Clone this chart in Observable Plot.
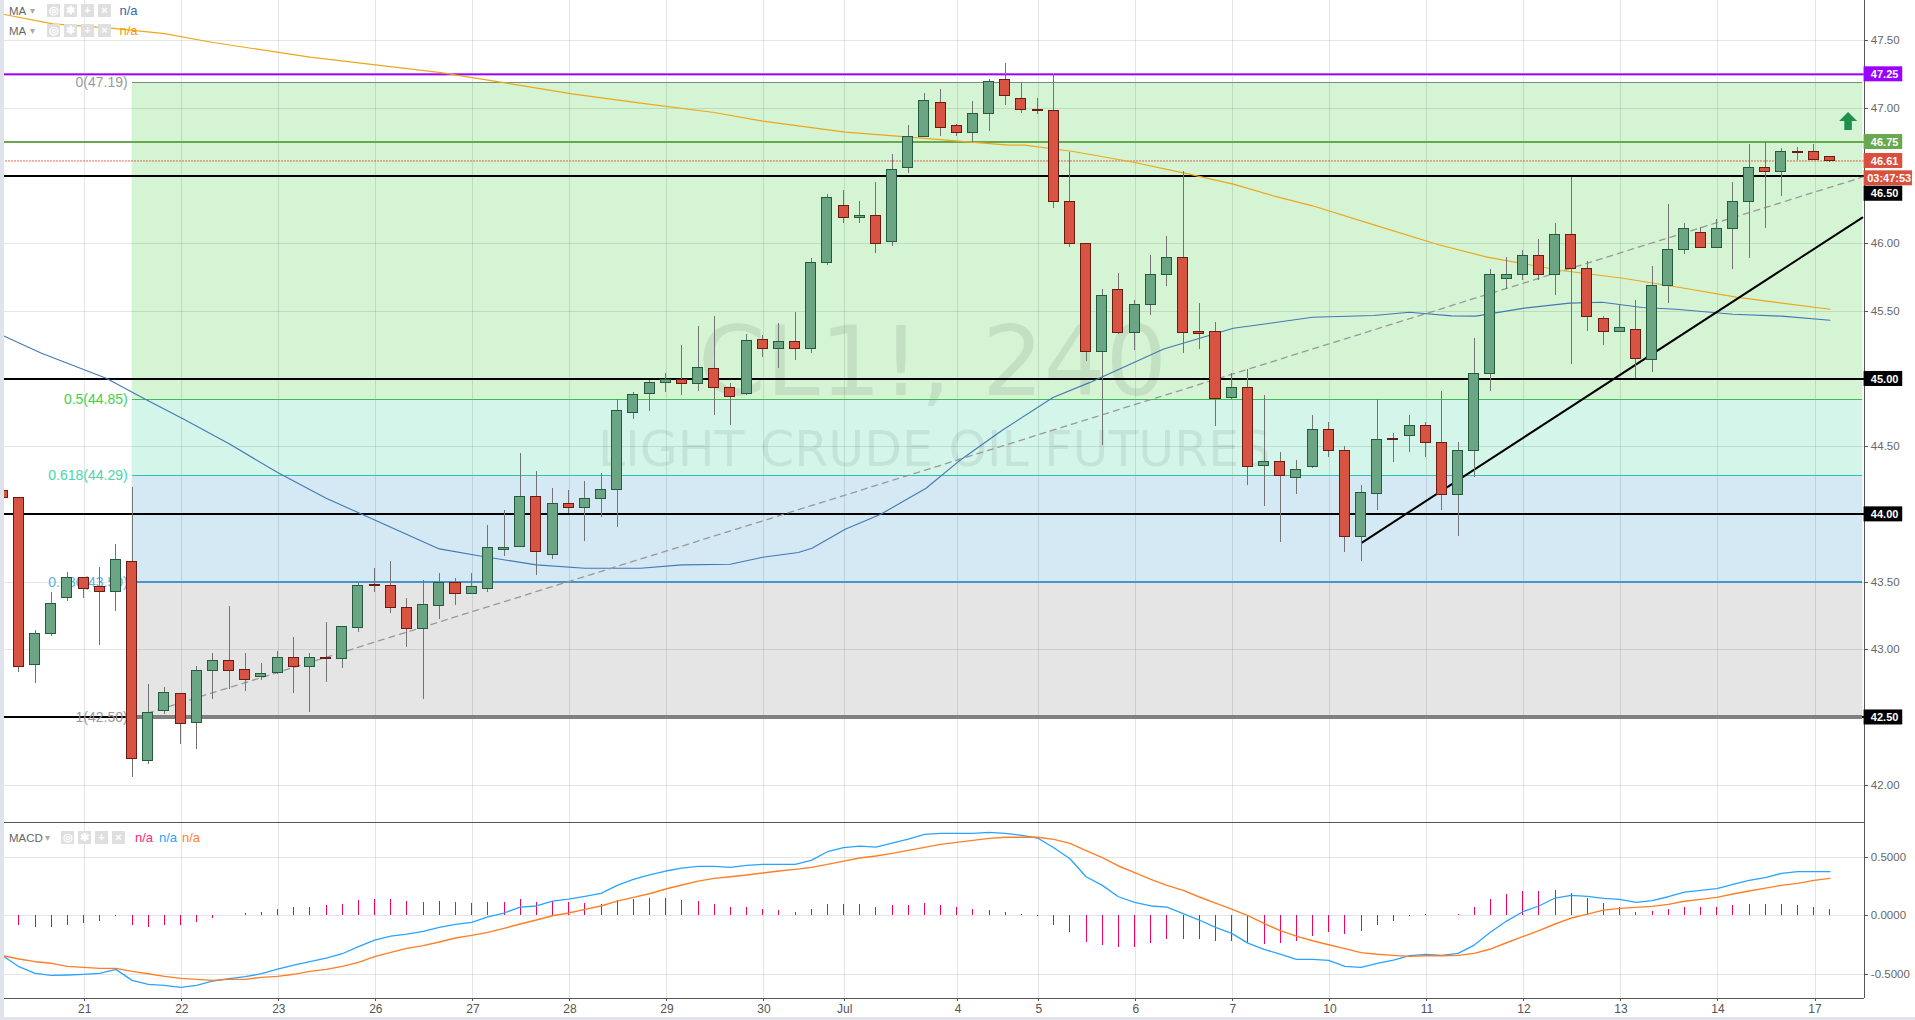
<!DOCTYPE html>
<html>
<head>
<meta charset="utf-8">
<script src="https://cdn.jsdelivr.net/npm/d3@7"></script>
<script src="https://cdn.jsdelivr.net/npm/@observablehq/plot@0.6"></script>
<style>
html,body{margin:0;padding:0;background:#fff;overflow:hidden}
#page{position:relative;width:1915px;height:1020px;overflow:hidden;font-family:"Liberation Sans",Arial,sans-serif}
#page svg{position:absolute;left:0;display:block}
.strip{position:absolute;background:#e0e3eb}
.legend{position:absolute;left:9px;height:14px;line-height:14px;font-size:13px;color:#666;white-space:nowrap}
.legend span{position:absolute;top:0}
.legend .name{font-size:11.5px}
.btn{width:13px;height:13px;background:#dfdfdf;color:#fff;font-size:11px;line-height:13px;text-align:center;font-weight:bold}
.caret{color:#aaa;font-size:10px}
</style>
</head>
<body>
<div id="page"></div>
<script>
// 4-hour bars of CL1!
const open = [44.17,44.12,42.89,43.12,43.38,43.53,43.46,43.43,43.65,42.18,
42.55,42.67,42.46,42.84,42.92,42.85,42.80,42.83,42.94,42.87,
42.94,42.93,43.16,43.48,43.47,43.31,43.15,43.32,43.49,43.41,
43.45,43.74,43.76,44.13,43.70,44.08,44.05,44.11,44.18,44.75,
44.89,44.97,44.99,44.96,45.07,44.93,44.89,45.29,45.22,45.27,
45.22,45.86,46.28,46.19,46.20,46.01,46.56,46.79,47.04,46.87,
46.82,46.96,47.21,47.07,46.99,46.98,46.31,46.00,45.20,45.66,
45.34,45.55,45.77,45.89,45.35,45.35,44.86,44.93,44.36,44.39,
44.27,44.35,44.62,44.47,43.83,44.15,44.56,44.58,44.65,44.53,
44.14,44.47,45.04,45.74,45.77,45.91,45.77,46.06,45.81,45.44,
45.35,45.36,45.14,45.69,45.95,46.08,45.97,46.11,46.31,46.56,
46.53,46.68,46.68,46.64];
const close = [44.12,42.87,43.12,43.34,43.53,43.45,43.43,43.66,42.19,42.53,
42.68,42.45,42.84,42.92,42.84,42.78,42.82,42.94,42.87,42.94,
42.93,43.17,43.47,43.47,43.31,43.15,43.33,43.49,43.41,43.46,
43.75,43.75,44.13,43.72,44.08,44.05,44.11,44.18,44.76,44.88,
44.97,44.99,44.96,45.08,44.93,44.87,45.28,45.22,45.27,45.22,
45.86,46.34,46.19,46.20,46.00,46.54,46.79,47.05,46.85,46.82,
46.96,47.19,47.09,46.99,46.98,46.31,46.00,45.20,45.61,45.34,
45.55,45.77,45.89,45.34,45.33,44.85,44.93,44.35,44.39,44.28,
44.33,44.62,44.47,43.83,44.16,44.55,44.55,44.65,44.53,44.14,
44.47,45.04,45.77,45.77,45.91,45.77,46.06,45.81,45.46,45.35,
45.38,45.15,45.69,45.95,46.11,45.97,46.11,46.31,46.56,46.53,
46.68,46.67,46.62,46.61];
const high = [44.17,44.12,43.14,43.42,43.57,43.53,43.61,43.78,44.20,42.74,
42.72,42.67,42.88,42.97,43.32,42.97,42.90,42.99,43.09,42.97,
43.20,43.17,43.49,43.60,43.65,43.38,43.51,43.56,43.53,43.56,
43.92,44.03,44.45,44.32,44.19,44.18,44.24,44.30,44.85,44.90,
44.99,45.04,45.25,45.39,45.46,44.97,45.33,45.32,45.41,45.49,
45.89,46.36,46.39,46.31,46.45,46.66,46.87,47.11,47.14,46.88,
47.05,47.21,47.33,47.18,47.07,47.25,46.67,46.00,45.66,45.78,
45.58,45.91,46.05,46.53,45.56,45.42,45.04,45.07,44.88,44.46,
44.40,44.73,44.68,44.50,44.21,44.85,44.60,44.73,44.68,44.91,
44.53,45.30,45.81,45.90,45.95,46.03,46.15,46.49,45.87,45.46,
45.55,45.58,45.83,46.29,46.15,46.12,46.18,46.45,46.73,46.75,
46.70,46.71,46.73,46.64];
const low = [44.12,42.83,42.75,43.10,43.36,43.38,43.03,43.28,42.06,42.15,
42.52,42.30,42.26,42.63,42.71,42.69,42.77,42.82,42.68,42.54,
42.76,42.86,43.13,43.42,43.27,43.02,42.63,43.22,43.33,43.41,
43.42,43.69,43.76,43.55,43.67,44.01,43.80,43.98,43.90,44.70,
44.76,44.90,44.88,44.91,44.73,44.66,44.88,45.16,45.08,45.14,
45.19,45.84,46.15,46.15,45.93,45.98,46.52,46.79,46.79,46.79,
46.75,46.83,47.02,46.96,46.95,46.26,45.97,45.13,44.51,45.33,
45.21,45.47,45.68,45.19,45.22,44.65,44.85,44.21,44.06,43.79,
44.15,44.34,44.42,43.72,43.65,44.03,44.38,44.46,44.42,44.03,
43.84,44.27,44.91,45.66,45.73,45.73,45.62,45.11,45.35,45.25,
45.34,45.00,45.05,45.56,45.92,45.96,45.97,45.81,45.89,46.11,
46.35,46.61,46.61,46.60];

// moving averages, read at these bars
const maSlowBars = [0.1,3.1,6.7,10,13,19,27.1,30.2,35.2,39.45,44,47,52.1,55.9,59.1,62.2,63.2,66.2,69.7,73.3,76.1,78.7,81,84.8,88.8,91.8,96.4,100.2,104,107.2,113];
const maSlowVals = [47.692,47.623,47.591,47.551,47.485,47.377,47.263,47.204,47.106,47.037,46.968,46.904,46.823,46.788,46.756,46.727,46.727,46.68,46.606,46.515,46.439,46.348,46.279,46.138,45.991,45.9,45.801,45.744,45.67,45.604,45.515];
const maFastBars = [0.1,2.4,6.4,8.7,11.2,14,17,20,27,29.7,33,36,39.45,42,45,47,49.2,50.05,52.1,54.3,57.1,59.1,61.7,64.95,67.2,71.8,76.1,78.7,81,84.8,87,89.6,91.1,94.1,96.9,98.9,101.4,103.5,107,110,113];
const maFastVals = [45.316,45.19,45.006,44.858,44.703,44.521,44.309,44.119,43.745,43.689,43.627,43.602,43.602,43.627,43.632,43.683,43.718,43.75,43.89,44.001,44.193,44.39,44.612,44.863,44.973,45.222,45.375,45.417,45.456,45.469,45.493,45.466,45.464,45.523,45.56,45.567,45.528,45.515,45.478,45.464,45.434];

// MACD pane, one value per bar
const macdVals = [-.342,-.436,-.493,-.51,-.507,-.501,-.493,-.459,-.553,-.587,
-.595,-.613,-.595,-.558,-.538,-.521,-.496,-.456,-.422,-.393,
-.362,-.325,-.265,-.208,-.174,-.157,-.134,-.1,-.074,-.057,
-.011,.023,.074,.083,.125,.142,.165,.191,.259,.311,
.348,.382,.407,.422,.422,.413,.43,.439,.439,.439,
.473,.547,.581,.595,.587,.621,.655,.695,.704,.704,
.704,.712,.704,.687,.664,.581,.487,.333,.259,.162,
.114,.083,.074,.017,-.037,-.1,-.151,-.234,-.288,-.328,
-.373,-.373,-.382,-.433,-.442,-.407,-.379,-.342,-.33,-.339,
-.322,-.251,-.142,-.046,.034,.083,.151,.174,.165,.148,
.14,.114,.128,.162,.202,.217,.231,.268,.302,.325,
.362,.376,.376,.376];
const signalVals = [-.342,-.37,-.393,-.407,-.433,-.442,-.45,-.45,-.476,-.496,
-.519,-.536,-.544,-.553,-.544,-.544,-.527,-.519,-.501,-.476,
-.459,-.433,-.399,-.35,-.313,-.279,-.256,-.225,-.191,-.168,
-.142,-.108,-.071,-.037,0,.023,.054,.083,.125,.157,
.188,.228,.262,.296,.319,.333,.348,.365,.382,.396,
.413,.439,.467,.493,.51,.533,.558,.584,.61,.627,
.644,.661,.67,.67,.67,.652,.618,.556,.496,.425,
.368,.311,.259,.217,.16,.108,.057,0,-.066,-.128,
-.174,-.214,-.248,-.282,-.316,-.33,-.339,-.348,-.342,-.342,
-.339,-.322,-.285,-.231,-.179,-.128,-.071,-.02,.014,.048,
.063,.071,.08,.097,.123,.14,.157,.185,.211,.236,
.259,.276,.302,.319];
const histVals = [null,-.08,-.103,-.103,-.08,-.063,-.046,-.011,-.08,-.097,
-.088,-.088,-.054,-.02,.003,.023,.031,.057,.066,.074,
.083,.1,.134,.142,.142,.125,.117,.125,.117,.108,
.117,.117,.142,.117,.125,.117,.108,.1,.134,.142,
.151,.151,.134,.125,.1,.066,.066,.057,.048,.031,
.057,.1,.1,.1,.074,.083,.091,.108,.091,.074,
.057,.048,.031,.006,-.009,-.08,-.14,-.225,-.251,-.276,
-.268,-.234,-.2,-.2,-.2,-.217,-.217,-.225,-.242,-.234,
-.217,-.174,-.14,-.157,-.131,-.088,-.046,-.011,.006,.002,
.014,.066,.142,.185,.211,.211,.219,.194,.151,.108,
.074,.031,.04,.057,.074,.074,.074,.083,.1,.1,
.1,.091,.074,.057];

// date ticks
const dayBars = [5,11,17,23,29,35,41,47,52,59,64,70,76,82,88,94,100,106,112];
const dayLabels = ["21","22","23","26","27","28","29","30","Jul","4","5","6","7","10","11","12","13","14","17"];

// price levels
const priceTicks = [47.5,47,46.5,46,45.5,45,44.5,44,43.5,43,42.5,42];
const plainTickLabels = [47.5,47,46,45.5,44.5,43.5,43,42];
const macdTicks = [0.5,0,-0.5];
const blackLevels = [46.5,45,44,42.5];

// Fibonacci retracement
const fibLevels = [47.19,44.85,44.29,43.5,42.5];
const fibLabels = ["0(47.19)","0.5(44.85)","0.618(44.29)","0.786(43.50)","1(42.50)"];
const fibLine = ["#7d8b7d","#38c04a","#26c9a0","#4a94c6","#808080"];
const fibText = ["#9a9a9a","#3dd24e","#45d6ad","#5db1e4","#9a9a9a"];
const fibFill = ["#d5f4d4","#d4f6ea","#d4e9f4","#e5e5e5"];

// drawn lines: [bar, price]
const dashBars = [8.95,115];
const dashVals = [42.532,46.49];
const trendBars = [84.06,115];
const trendVals = [43.792,46.192];

// price chips at the right: label, the price where the chip sits
const chipLabels = ["47.25","46.75","46.61","03:47:53","46.50","45.00","44.00","42.50"];
const chipPrices = [47.25,46.75,46.61,46.482,46.368,45,44,42.5];
const chipColors = ["#9900ff","#6aa84f","#d9503f","#d9503f","#000000","#000000","#000000","#000000"];

const bars = open.map((o,i)=>({i,o,c:close[i],h:high[i],l:low[i],up:close[i]>=o}));
const right = 115.11;                     // price axis position, in bars
const xDomain = [-0.138,118.29];
const pts = (b,v)=>b.map((x,k)=>({x,y:v[k]}));
const fibRows = fibLevels.map((y,k)=>({y,label:fibLabels[k],line:fibLine[k],text:fibText[k]}));
const bands = fibFill.map((fill,k)=>({fill,y1:fibLevels[k],y2:fibLevels[k+1]}));
const chips = chipLabels.map((label,k)=>({label,y:chipPrices[k],fill:chipColors[k],wide:label.length>5}));

const arrow = {draw(c,size){const r=Math.sqrt(size/Math.PI);
  c.moveTo(0,-r);c.lineTo(r,0);c.lineTo(r*.42,0);c.lineTo(r*.42,r);c.lineTo(-r*.42,r);c.lineTo(-r*.42,0);c.lineTo(-r,0);c.closePath();}};

const crisp = {shapeRendering:"crispEdges"};
const font = '"Liberation Sans",Arial,sans-serif';

const main = Plot.plot({
  width:1915,height:822,margin:0,
  style:{background:"transparent",fontFamily:font},
  x:{domain:xDomain,range:[0,1915],axis:null},
  y:{domain:[41.7295,47.8004],range:[821.3,-0.7],axis:null},
  marks:[
    ...bands.map(b=>Plot.rect([b],{x1:()=>8,x2:()=>right-0.07,y1:"y1",y2:"y2",fill:b.fill})),
    Plot.text(["CL1!, 240"],{x:()=>57.5,y:()=>45.112,text:d=>d,fontSize:97,fontFamily:"DejaVu Sans",fill:"#000",fillOpacity:.08}),
    Plot.text(["LIGHT CRUDE OIL FUTURES"],{x:()=>57.6,y:()=>44.47,text:d=>d,fontSize:49,fontFamily:"DejaVu Sans",fill:"#000",fillOpacity:.07}),
    Plot.ruleY(priceTicks,{x1:()=>0,x2:()=>right,stroke:"#000",strokeOpacity:.1,...crisp}),
    Plot.ruleX(dayBars,{x:d=>d+0.075,stroke:"#000",strokeOpacity:.1,...crisp}),
    Plot.ruleY(blackLevels,{x1:()=>0,x2:()=>right,stroke:"#000",strokeWidth:2,...crisp}),
    Plot.ruleY([46.75],{x1:()=>0,x2:()=>right,stroke:"#6aa84f",strokeWidth:2,...crisp}),
    Plot.ruleY([47.25],{x1:()=>0,x2:()=>right,stroke:"#d9a8ff",strokeWidth:3,...crisp}),
    Plot.ruleY([47.25],{x1:()=>0,x2:()=>right,stroke:"#9900ff",strokeWidth:1.5}),
    Plot.ruleY([46.61],{x1:()=>0,x2:()=>right,stroke:"#e0301e",strokeWidth:1,strokeDasharray:"1.5,1.5"}),
    Plot.ruleY(fibRows.slice(0,4),{y:"y",x1:()=>8,x2:()=>right-0.07,stroke:d=>d.line,strokeWidth:1.2,...crisp}),
    Plot.ruleY(fibRows.slice(4),{y:"y",x1:()=>8,x2:()=>right-0.07,stroke:d=>d.line,strokeWidth:4,...crisp}),
    Plot.text(fibRows,{x:()=>7.73,y:"y",text:"label",textAnchor:"end",fill:d=>d.text,fontSize:14}),
    Plot.line(pts(maSlowBars,maSlowVals),{x:"x",y:"y",stroke:"#eda61c",strokeWidth:1.2,curve:"linear"}),
    Plot.line(pts(maFastBars,maFastVals),{x:"x",y:"y",stroke:"#4478b4",strokeWidth:1.1,curve:"linear"}),
    Plot.line(pts(dashBars,dashVals),{x:"x",y:"y",stroke:"#999",strokeWidth:1.3,strokeDasharray:"6,5"}),
    Plot.line(pts(trendBars,trendVals),{x:"x",y:"y",stroke:"#000",strokeWidth:2}),
    Plot.ruleX(bars,{x:"i",y1:"l",y2:"h",stroke:"#737373",strokeWidth:1,...crisp}),
    Plot.rect(bars.filter(d=>d.up),{x1:d=>d.i-.31,x2:d=>d.i+.31,y1:"o",y2:"c",fill:"#6ba583",stroke:"#225b3d",strokeWidth:1,...crisp}),
    Plot.rect(bars.filter(d=>!d.up),{x1:d=>d.i-.31,x2:d=>d.i+.31,y1:"o",y2:"c",fill:"#d75442",stroke:"#6b1a14",strokeWidth:1,...crisp}),
    Plot.dot([46.906],{x:()=>114.12,y:d=>d,symbol:arrow,r:9,fill:"#1f8f4b",stroke:"none"}),
    // price axis
    Plot.ruleX([right],{stroke:"#555",...crisp}),
    Plot.ruleY(priceTicks,{x1:()=>right,x2:()=>right+0.3,stroke:"#555",...crisp}),
    Plot.text(plainTickLabels,{x:()=>115.53,y:d=>d,text:d=>d.toFixed(2),textAnchor:"start",fill:"#666",fontSize:11.5}),
    Plot.rect(chips,{x1:()=>right,x2:d=>d.wide?118.1:117.5,y1:d=>d.y-.0554,y2:d=>d.y+.0554,fill:"fill"}),
    Plot.text(chips,{x:d=>d.wide?115.3:115.53,y:"y",text:"label",textAnchor:"start",fill:"#fff",fontSize:11,fontWeight:"bold"})
  ]
});
main.style.top="0px";

const macdPane = Plot.plot({
  width:1915,height:198,margin:0,
  style:{background:"transparent",fontFamily:font},
  x:{domain:xDomain,range:[0,1915],axis:null},
  y:{domain:[-0.8915,0.8009],range:[197.5,-0.5],axis:null},
  marks:[
    Plot.ruleY(macdTicks,{x1:()=>0,x2:()=>right,stroke:"#000",strokeOpacity:.1,...crisp}),
    Plot.ruleX(dayBars,{x:d=>d+0.075,y1:()=>-0.706,y2:()=>0.8,stroke:"#000",strokeOpacity:.1,...crisp}),
    Plot.ruleX(bars.filter(d=>histVals[d.i]!=null),{x:"i",y1:()=>0,y2:d=>histVals[d.i],stroke:"#f5005f",strokeWidth:1,...crisp}),
    Plot.line(macdVals,{x:(d,k)=>k,y:d=>d,stroke:"#2aa3ff",strokeWidth:1.3}),
    Plot.line(signalVals,{x:(d,k)=>k,y:d=>d,stroke:"#ff7f27",strokeWidth:1.4}),
    Plot.ruleY([0.8],{x1:()=>0,x2:()=>right,stroke:"#555",strokeWidth:1.2,...crisp}),
    Plot.ruleY([-0.7065],{x1:()=>0,x2:()=>right,stroke:"#555",strokeWidth:1.2,...crisp}),
    Plot.ruleX([right],{y1:()=>-0.7065,y2:()=>0.8009,stroke:"#555",...crisp}),
    Plot.ruleY(macdTicks,{x1:()=>right,x2:()=>right+0.3,stroke:"#555",...crisp}),
    Plot.text(macdTicks,{x:()=>115.53,y:d=>d,text:d=>d.toFixed(4),textAnchor:"start",fill:"#666",fontSize:11.5}),
    Plot.ruleX(dayBars,{x:d=>d+0.075,y1:()=>-0.7065,y2:()=>-0.733,stroke:"#555",...crisp}),
    Plot.text(dayLabels,{x:(d,k)=>dayBars[k]+0.075,y:()=>-0.8,text:d=>d,fill:"#555",fontSize:12,fontWeight:d=>d==="Jul"?"bold":"normal"})
  ]
});
macdPane.style.top="822px";

const page = document.getElementById("page");
page.append(main,macdPane);

function legend(top,name,capX,btnX,items){
  const el=document.createElement("div");el.className="legend";el.style.top=top+"px";
  const s=(cls,left,txt,col)=>{const e=document.createElement("span");if(cls)e.className=cls;e.style.left=(left-9)+"px";e.textContent=txt;if(col)e.style.color=col;el.append(e);};
  s("name",9,name);s("caret",capX,"▾");
  ["◎","✱","+","×"].forEach((g,k)=>s("btn",btnX+k*17,g));
  items.forEach(([x,t,c])=>s("",x,t,c));
  page.append(el);
}
legend(4,"MA",30,47,[[119.5,"n/a","#3a66b0"]]);
legend(24,"MA",30,47,[[119.5,"n/a","#ff9800"]]);
legend(831,"MACD",45,61,[[135,"n/a","#ff1f78"],[159,"n/a","#2aa3ff"],[182,"n/a","#ff7f27"]]);

for(const [l,t,w,h] of [[0,0,3.5,1020],[0,1017,1915,3]]){
  const d=document.createElement("div");d.className="strip";
  d.style.cssText=`left:${l}px;top:${t}px;width:${w}px;height:${h}px`;page.append(d);
}
</script>
</body>
</html>
